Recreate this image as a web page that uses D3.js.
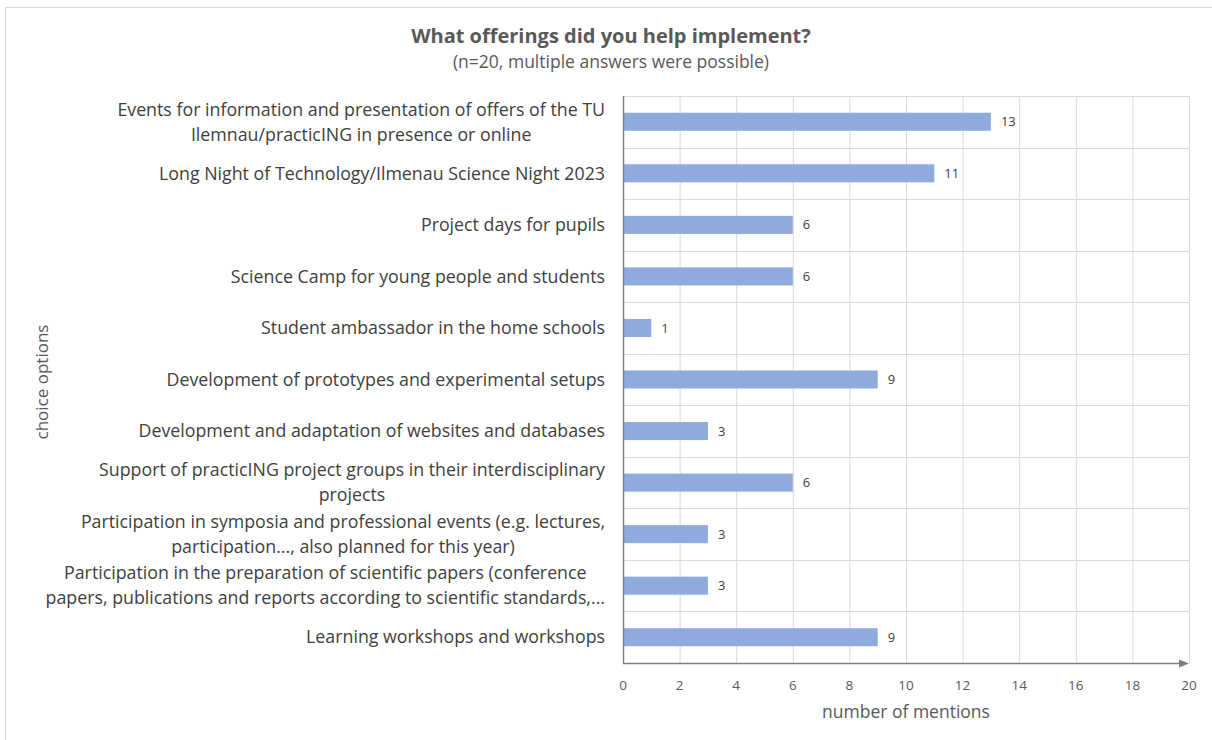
<!DOCTYPE html>
<html>
<head>
<meta charset="utf-8">
<script src="https://cdn.jsdelivr.net/npm/d3@7"></script>
<style>
  html, body { margin: 0; padding: 0; background: #fff; }
  svg { display: block; font-family: "Open Sans", "Noto Sans", sans-serif; }
</style>
</head>
<body>
<svg id="chart" width="1212" height="740"></svg>
<script>
// Survey answers: each category may span several lines
const categories = [
  ["Events for information and presentation of offers of the TU", "Ilemnau/practicING in presence or online"],
  ["Long Night of Technology/Ilmenau Science Night 2023"],
  ["Project days for pupils"],
  ["Science Camp for young people and students"],
  ["Student ambassador in the home schools"],
  ["Development of prototypes and experimental setups"],
  ["Development and adaptation of websites and databases"],
  ["Support of practicING project groups in their interdisciplinary", "projects"],
  ["Participation in symposia and professional events (e.g. lectures,", "participation..., also planned for this year)"],
  ["Participation in the preparation of scientific papers (conference", "papers, publications and reports according to scientific standards,..."],
  ["Learning workshops and workshops "]
];
const mentions = [13, 11, 6, 6, 1, 9, 3, 6, 3, 3, 9];
const xTicks = [0, 2, 4, 6, 8, 10, 12, 14, 16, 18, 20];

const titleText = "What offerings did you help implement?";
const subtitleText = "(n=20, multiple answers were possible)";
const xTitle = "number of mentions";
const yTitle = "choice options";

const svg = d3.select("#chart");
const textColor = "#595959";

// outer frame
svg.append("rect")
  .attr("x", 5.5).attr("y", 7.5)
  .attr("width", 1230).attr("height", 760)
  .attr("fill", "none").attr("stroke", "#d9d9d9").attr("stroke-width", 1);

const plot = { left: 623, right: 1189, top: 96, bottom: 663 };

const x = d3.scaleLinear().domain([0, 20]).range([plot.left, plot.right]);
const y = d3.scaleBand()
  .domain(d3.range(categories.length))
  .range([plot.top, plot.bottom])
  .paddingInner(0.65).paddingOuter(0.325);

const bandStep = y.step();

// vertical grid
svg.append("g").selectAll("line").data(xTicks.slice(1)).join("line")
  .attr("x1", d => x(d) + 0.5).attr("x2", d => x(d) + 0.5)
  .attr("y1", plot.top).attr("y2", plot.bottom)
  .attr("stroke", "#d9d9d9").attr("stroke-width", 1);

// horizontal grid at band boundaries
svg.append("g").selectAll("line").data(d3.range(categories.length)).join("line")
  .attr("x1", plot.left).attr("x2", plot.right)
  .attr("y1", d => Math.round(plot.top + d * bandStep) + 0.5)
  .attr("y2", d => Math.round(plot.top + d * bandStep) + 0.5)
  .attr("stroke", "#d9d9d9").attr("stroke-width", 1);

// bars
svg.append("g").selectAll("rect").data(mentions).join("rect")
  .attr("x", x(0))
  .attr("y", (d, i) => y(i))
  .attr("width", d => x(d) - x(0))
  .attr("height", y.bandwidth())
  .attr("fill", "#8faadc");

// value labels
svg.append("g").selectAll("text").data(mentions).join("text")
  .attr("x", d => x(d) + 10)
  .attr("y", (d, i) => y(i) + y.bandwidth() / 2)
  .attr("dy", "0.35em")
  .attr("font-size", 13)
  .attr("fill", "#404040")
  .text(d => d);

// x axis with arrow
const defs = svg.append("defs");
defs.append("marker")
  .attr("id", "arrow").attr("viewBox", "0 0 10 10")
  .attr("refX", 0).attr("refY", 5)
  .attr("markerWidth", 10).attr("markerHeight", 10)
  .attr("markerUnits", "userSpaceOnUse")
  .attr("orient", "auto")
  .append("path").attr("d", "M0,1 L10,5 L0,9 Z").attr("fill", "#7f7f7f");

svg.append("line")
  .attr("x1", plot.left).attr("x2", plot.right - 10)
  .attr("y1", plot.bottom + 0.5).attr("y2", plot.bottom + 0.5)
  .attr("stroke", "#7f7f7f").attr("stroke-width", 1.5)
  .attr("marker-end", "url(#arrow)");

// y axis line
svg.append("line")
  .attr("x1", plot.left + 0.5).attr("x2", plot.left + 0.5)
  .attr("y1", plot.top).attr("y2", plot.bottom)
  .attr("stroke", "#7f7f7f").attr("stroke-width", 1.5);

// x tick labels
svg.append("g").selectAll("text").data(xTicks).join("text")
  .attr("x", d => x(d))
  .attr("y", 690)
  .attr("text-anchor", "middle")
  .attr("font-size", 13.5)
  .attr("fill", textColor)
  .text(d => d);

// category labels: lines centred within a block whose right edge is fixed
const labelRight = 605;
const lineGap = 25;
const catG = svg.append("g").attr("font-size", 17.8).attr("fill", "#404040");
categories.forEach((lines, i) => {
  const g = catG.append("g");
  const texts = lines.map((s, k) => g.append("text")
    .attr("y", y(i) + y.bandwidth() / 2 + (k - (lines.length - 1) / 2) * lineGap)
    .attr("dy", "0.35em")
    .attr("text-anchor", "middle")
    .text(s));
  const w = d3.max(texts, t => t.node().getComputedTextLength());
  texts.forEach(t => t.attr("x", labelRight - w / 2));
});

// titles
svg.append("text")
  .attr("x", 611).attr("y", 43)
  .attr("text-anchor", "middle")
  .attr("font-size", 20).attr("font-weight", "bold")
  .attr("fill", textColor)
  .text(titleText);

svg.append("text")
  .attr("x", 611).attr("y", 68)
  .attr("text-anchor", "middle")
  .attr("font-size", 17.5).attr("fill", textColor)
  .text(subtitleText);

svg.append("text")
  .attr("x", 906).attr("y", 718)
  .attr("text-anchor", "middle")
  .attr("font-size", 17.5).attr("fill", textColor)
  .text(xTitle);

svg.append("text")
  .attr("transform", "translate(48,382) rotate(-90)")
  .attr("text-anchor", "middle")
  .attr("font-size", 17).attr("fill", textColor)
  .text(yTitle);
</script>
</body>
</html>
